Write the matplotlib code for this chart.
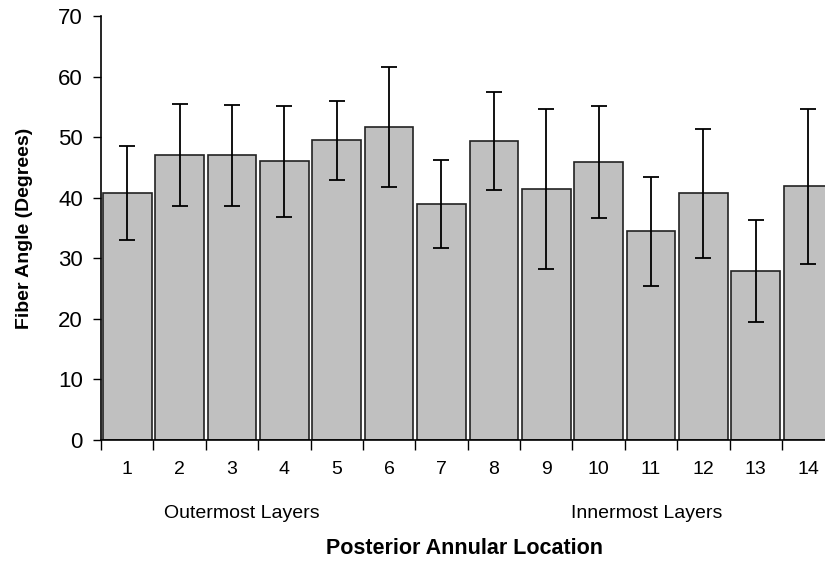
import numpy as np
import matplotlib.pyplot as plt

plt.rcParams['font.family'] = ['Liberation Sans', 'DejaVu Sans']

# data
locations = ['1', '2', '3', '4', '5', '6', '7', '8', '9', '10', '11', '12', '13', '14']
fiber_angle = [40.8, 47.0, 47.0, 46.0, 49.5, 51.7, 39.0, 49.3, 41.5, 45.9, 34.5, 40.7, 27.9, 41.9]
std_dev = [7.8, 8.4, 8.3, 9.2, 6.5, 9.9, 7.3, 8.1, 13.2, 9.3, 9.0, 10.6, 8.4, 12.8]

fig = plt.figure(figsize=(8.25, 5.63), dpi=100)
# axes runs past the right edge, like the original
ax = fig.add_axes([0.1224, 0.2185, 0.889, 0.753])

x = np.arange(len(locations))
ax.bar(x, fiber_angle, width=0.93, color='#c0c0c0', edgecolor='#222222', linewidth=1.2,
       yerr=std_dev, capsize=6, error_kw={'elinewidth': 1.3, 'capthick': 1.3, 'ecolor': 'black'})

ax.set_xlim(-0.5, len(locations) - 0.5)
ax.set_ylim(0, 70)
ax.set_yticks(range(0, 71, 10))
ax.tick_params(axis='y', labelsize=16, direction='out', length=6, width=1, pad=7)

# ticks sit between the bars, labels under the bars
ax.set_xticks(np.arange(-0.5, len(locations), 1.0))
ax.set_xticklabels([])
ax.set_xticks(x, minor=True)
ax.set_xticklabels(locations, minor=True)
ax.tick_params(axis='x', which='major', direction='out', length=7, width=1)
ax.tick_params(axis='x', which='minor', length=0, labelsize=14, pad=15)

for s in ['top', 'right']:
    ax.spines[s].set_visible(False)
ax.spines['left'].set_linewidth(1.2)
ax.spines['bottom'].set_linewidth(1.2)

ax.set_ylabel('Fiber Angle (Degrees)', fontsize=14, fontweight='bold', labelpad=18)
fig.text(0.5625, 0.025, 'Posterior Annular Location', ha='center', va='center',
         fontsize=15.5, fontweight='bold')
fig.text(0.2935, 0.088, 'Outermost Layers', ha='center', va='center', fontsize=14)
fig.text(0.784, 0.088, 'Innermost Layers', ha='center', va='center', fontsize=14)

fig.savefig('out.png', dpi=100)
